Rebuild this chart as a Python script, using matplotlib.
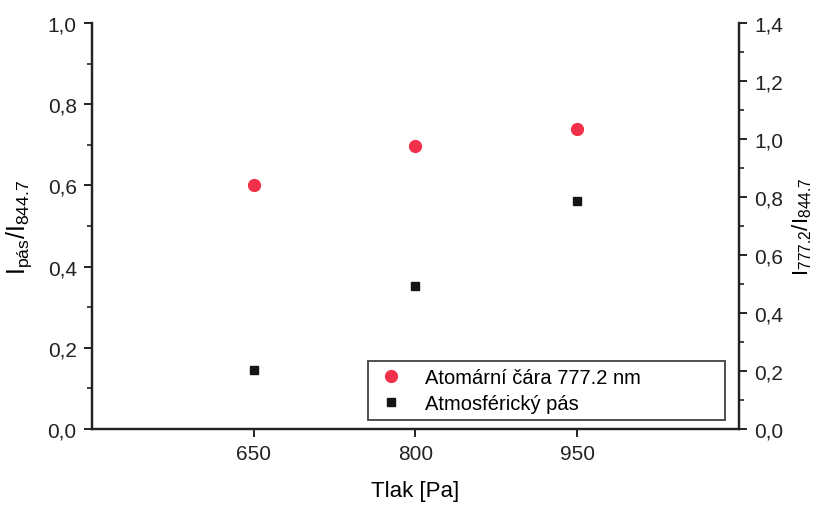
import matplotlib
matplotlib.use("Agg")
import matplotlib.pyplot as plt
from matplotlib.ticker import FuncFormatter, MultipleLocator

plt.rcParams['font.family'] = ['Liberation Sans', 'DejaVu Sans']
plt.rcParams['mathtext.fontset'] = 'custom'
plt.rcParams['mathtext.rm'] = 'Liberation Sans'
plt.rcParams['mathtext.it'] = 'Liberation Sans'

pressure = [650, 800, 950]
atomic_line = [0.84, 0.975, 1.035]   # right axis: I777.2/I844.7
band = [0.145, 0.352, 0.562]          # left axis: Ipás/I844.7
xticks = [650, 800, 950]

fig = plt.figure(figsize=(8.19, 5.10), dpi=100)
ax = fig.add_axes([0.1123, 0.157, 0.790, 0.796])
ax2 = ax.twinx()

comma = FuncFormatter(lambda v, p: f"{v:.1f}".replace('.', ','))

ax.set_xlim(500, 1100)
ax.set_ylim(0, 1.0)
ax2.set_ylim(0, 1.4)
ax.set_xticks(xticks)
ax.yaxis.set_major_locator(MultipleLocator(0.2))
ax.yaxis.set_minor_locator(MultipleLocator(0.1))
ax2.yaxis.set_major_locator(MultipleLocator(0.2))
ax2.yaxis.set_minor_locator(MultipleLocator(0.1))
ax.yaxis.set_major_formatter(comma)
ax2.yaxis.set_major_formatter(comma)

for a in (ax, ax2):
    a.spines['top'].set_visible(False)
    for s in a.spines.values():
        s.set_linewidth(1.6)
        s.set_color('#222222')
    a.tick_params(which='major', direction='out', length=6, width=1.4, labelsize=15,
                  colors='#222222', pad=5)
    a.tick_params(which='minor', direction='out', length=3.5, width=1.2, colors='#222222')

h1, = ax2.plot(pressure, atomic_line, 'o', color='#F2304A', markersize=8.5, linestyle='none',
               label='Atomární čára 777.2 nm')
h2, = ax.plot(pressure, band, 's', color='#151515', markersize=6, linestyle='none',
              label='Atmosférický pás')

ax.set_xlabel('Tlak [Pa]', fontsize=16, labelpad=12)
ax.set_ylabel(r'$\mathrm{I}_{\mathrm{pás}}/\mathrm{I}_{844.7}$', fontsize=18, labelpad=10)
ax2.set_ylabel(r'$\mathrm{I}_{777.2}/\mathrm{I}_{844.7}$', fontsize=16, labelpad=5)

leg = ax2.legend(handles=[h1, h2], loc='lower left', mode='expand',
                 bbox_to_anchor=(0.4266, 0.022, 0.552, 0.158),
                 fontsize=14.5, frameon=True, fancybox=False, edgecolor='#222222',
                 borderpad=0.35, handletextpad=0.9, labelspacing=0.35, borderaxespad=0,
                 handlelength=1.6)
leg.get_frame().set_linewidth(1.4)

fig.savefig('out.png', dpi=100)
